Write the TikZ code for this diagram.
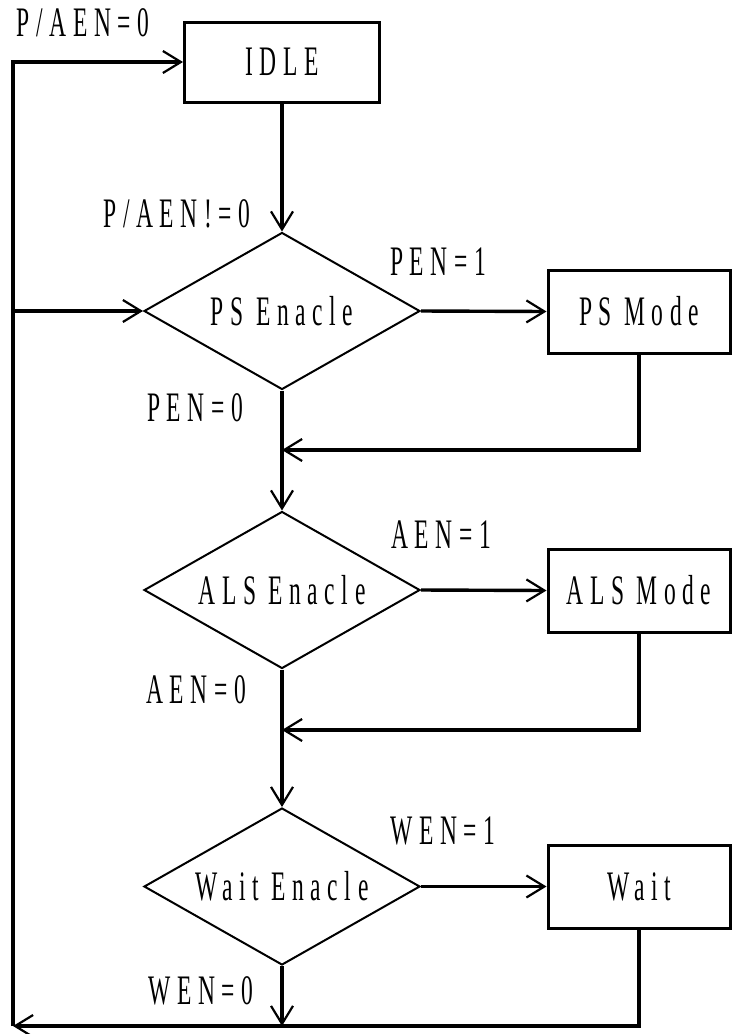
\documentclass[tikz,border=0pt]{standalone}
\usepackage{fontspec}
\newfontfamily\diafont[FakeStretch=0.56,LetterSpace=15.7]{Liberation Serif}
\usetikzlibrary{shapes.geometric,arrows.meta}
\tikzset{
  txt/.style={font=\diafont\fontsize{21}{24}\selectfont, inner sep=0pt},
  statebox/.style={txt, draw, line width=1.5pt, minimum width=91pt, minimum height=41.5pt},
  decide/.style={txt, draw, diamond, shape aspect=1.76, line width=1pt, minimum width=138pt, minimum height=78.5pt},
  arr/.style={line width=1.7pt, -{Straight Barb[length=9pt,width=11pt,line width=1.1pt]}},
  lbl/.style={txt}
}
\begin{document}
\begin{tikzpicture}[x=0.5pt,y=-0.5pt]
\useasboundingbox (0,0) rectangle (732,1034);
% states
\node[statebox, minimum width=97.5pt, minimum height=40pt] (idle) at (282,62) {IDLE};
\node[decide] (ps) at (282,311) {PS Enacle};
\node[statebox] (psm) at (639,311.5) {PS Mode};
\node[decide] (als) at (282,590) {ALS Enacle};
\node[statebox] (alsm) at (639,590.5) {ALS Mode};
\node[decide] (wt) at (282,886.5) {Wait Enacle};
\node[statebox] (wtm) at (639,886.5) {Wait};
% labels
\node[lbl] (l0) at (83,23) {P/AEN=0};
\node[lbl] (l1) at (177,214) {P/AEN!=0};
\node[lbl] (l2) at (438,262) {PEN=1};
\node[lbl] (l3) at (195,408) {PEN=0};
\node[lbl] (l4) at (441,535) {AEN=1};
\node[lbl] (l5) at (196,690) {AEN=0};
\node[lbl] (l6) at (443,831) {WEN=1};
\node[lbl] (l7) at (201,991) {WEN=0};
% junction coordinates
\coordinate (lbot) at (13,1026);
\coordinate (lmid) at (13,311);
\coordinate (j1) at (282,450);
\coordinate (j2) at (282,730);
\coordinate (j3) at (282,1026);
% connectors
\draw[arr] (lbot) |- (idle.west);
\draw[arr] (lmid) -- (ps.west);
\draw[arr] (idle.south) -- (ps.north);
\draw[arr] (ps.east) -- (psm.west);
\draw[arr] (psm.south) |- (j1);
\draw[arr] (ps.south) -- (als.north);
\draw[arr] (als.east) -- (alsm.west);
\draw[arr] (alsm.south) |- (j2);
\draw[arr] (als.south) -- (wt.north);
\draw[arr] (wt.east) -- (wtm.west);
\draw[arr] (wt.south) -- (j3);
\draw[arr] (wtm.south) |- (lbot);
\end{tikzpicture}
\end{document}
